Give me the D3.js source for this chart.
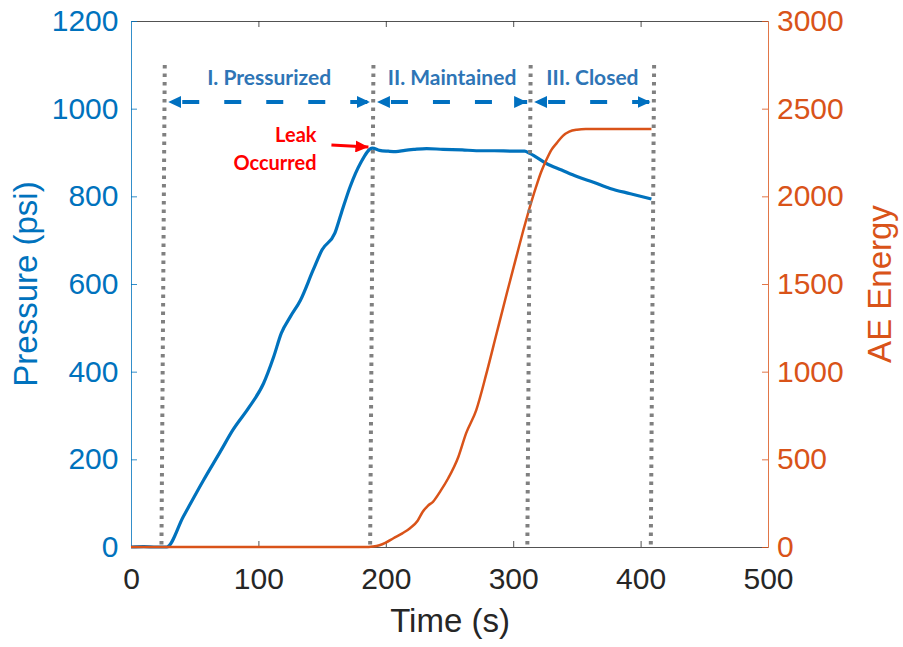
<!DOCTYPE html>
<html>
<head>
<meta charset="utf-8">
<script src="https://cdn.jsdelivr.net/npm/d3@7"></script>
<style>
  html, body { margin: 0; padding: 0; background: #fff; }
  svg { display: block; }
</style>
</head>
<body>
<svg id="chart" width="903" height="647"></svg>
<script>
// ---- data ----
// Pressure trace (time in s, pressure in psi)
const pressureTime = [0, 10, 20, 28, 41, 57, 70, 80, 93, 104, 112, 118, 125, 133, 143, 150, 160, 165, 172, 180, 189.5,
  195, 202, 208, 215, 222, 232, 245, 260, 271, 285, 300, 309, 313, 326, 338, 350, 363, 376, 392, 408.5];
const pressureValue = [0, 1, 0, 0, 69, 153, 217, 267, 320, 373, 434, 488, 525, 563, 632, 678, 716, 761, 822, 875, 910,
  905, 903, 902, 905, 907, 909, 907, 906, 904, 904, 903, 903, 898, 875, 860, 845, 832, 818, 806, 794];

// Cumulative acoustic emission energy
const energyTime = [0, 100, 183, 190, 195, 200, 206, 213, 219, 225, 229, 233, 237, 243, 249, 257, 263, 271, 279, 287,
  295, 302.5, 308, 312, 318, 322, 326, 330, 334, 339, 344, 350, 357, 380, 408.5];
const energyValue = [0, 0, 0, 3, 10, 25, 50, 78, 107, 150, 201, 235, 258, 320, 392, 515, 648, 781, 990, 1219,
  1447, 1656, 1808, 1912, 2055, 2140, 2207, 2265, 2302, 2345, 2369, 2380, 2384, 2384, 2384];

// Phase boundaries (s) and phase names
const phaseBounds = [26.5, 190.3, 313.7, 410.6];
const boundaryLean = -2.6;   // boundary markers drift slightly toward earlier time at the bottom
const phaseNames = ["I. Pressurized", "II. Maintained", "III. Closed"];

// Leak event annotation
const leakTime = 189.5;
const leakPressure = 910;
const leakLines = ["Leak", "Occurred"];

// Axis ticks
const timeTicks = [0, 100, 200, 300, 400, 500];
const pressureTicks = [0, 200, 400, 600, 800, 1000, 1200];
const energyTicks = [0, 500, 1000, 1500, 2000, 2500, 3000];

// ---- layout ----
const svg = d3.select("#chart");
const plotLeft = 131, plotRight = 768, plotTop = 21, plotBottom = 547;
const guideTop = 65;

const blue = "#0072BD", orange = "#D95319", dark = "#262626";
const phaseBlue = "#0070C0", phaseText = "#2E75B6";
const plain = d3.format("d");

const x = d3.scaleLinear().domain([0, 500]).range([plotLeft, plotRight]);
const yP = d3.scaleLinear().domain([0, 1200]).range([plotBottom, plotTop]);
const yE = d3.scaleLinear().domain([0, 3000]).range([plotBottom, plotTop]);

const defs = svg.append("defs");
function arrowMarker(id, color, w, h) {
  defs.append("marker")
    .attr("id", id)
    .attr("viewBox", `0 0 ${w} ${h}`)
    .attr("refX", w).attr("refY", h / 2)
    .attr("markerWidth", w).attr("markerHeight", h)
    .attr("markerUnits", "userSpaceOnUse")
    .attr("orient", "auto-start-reverse")
    .append("path")
    .attr("d", `M0,0L${w},${h / 2}L0,${h}Z`)
    .attr("fill", color);
}
arrowMarker("phaseHead", phaseBlue, 13, 12);
arrowMarker("leakHead", "#FF0000", 13, 12);

// ---- axes ----
const tickFont = "'Liberation Sans', Arial, Helvetica, sans-serif";

const gx = svg.append("g").attr("transform", `translate(0,${plotBottom})`)
  .call(d3.axisBottom(x).tickValues(timeTicks).tickFormat(plain)
    .tickSizeInner(-6).tickSizeOuter(0).tickPadding(21));
gx.selectAll("text").attr("fill", dark);
gx.selectAll("line, path").attr("stroke", dark).attr("stroke-width", 0.8);
gx.selectAll(".tick").filter(d => d === 0 || d === 500).select("line").remove();

const gt = svg.append("g").attr("transform", `translate(0,${plotTop})`)
  .call(d3.axisTop(x).tickValues(timeTicks.filter(d => d > 0 && d < 500))
    .tickSizeInner(-6).tickSizeOuter(0).tickFormat(""));
gt.selectAll("line, path").attr("stroke", dark).attr("stroke-width", 0.8);

const gl = svg.append("g").attr("transform", `translate(${plotLeft},0)`)
  .call(d3.axisLeft(yP).tickValues(pressureTicks).tickFormat(plain)
    .tickSizeInner(-6).tickSizeOuter(0).tickPadding(12.5));
gl.selectAll("text").attr("fill", blue);
gl.selectAll("line, path").attr("stroke", blue).attr("stroke-width", 0.8);

const gr = svg.append("g").attr("transform", `translate(${plotRight},0)`)
  .call(d3.axisRight(yE).tickValues(energyTicks).tickFormat(plain)
    .tickSizeInner(-6).tickSizeOuter(0).tickPadding(9));
gr.selectAll("text").attr("fill", orange);
gr.selectAll("line, path").attr("stroke", orange).attr("stroke-width", 0.8);

svg.selectAll(".tick text")
  .attr("font-family", tickFont).attr("font-size", 30);

// axis titles
svg.append("text")
  .attr("transform", `translate(${(plotLeft + plotRight) / 2 + 0.5},632)`)
  .attr("text-anchor", "middle")
  .attr("font-family", tickFont).attr("font-size", 33).attr("fill", dark)
  .text("Time (s)");

svg.append("text")
  .attr("transform", `translate(37,${(plotTop + plotBottom) / 2}) rotate(-90)`)
  .attr("text-anchor", "middle")
  .attr("font-family", tickFont).attr("font-size", 33).attr("fill", blue)
  .text("Pressure (psi)");

svg.append("text")
  .attr("transform", `translate(891,${(plotTop + plotBottom) / 2}) rotate(-90)`)
  .attr("text-anchor", "middle")
  .attr("font-family", tickFont).attr("font-size", 33).attr("fill", orange)
  .text("AE Energy");

// ---- series ----
const pressureData = pressureTime.map((t, i) => [t, pressureValue[i]]);
const energyData = energyTime.map((t, i) => [t, energyValue[i]]);

svg.append("path")
  .datum(pressureData)
  .attr("fill", "none").attr("stroke", blue).attr("stroke-width", 3.2)
  .attr("stroke-linejoin", "round")
  .attr("d", d3.line().x(d => x(d[0])).y(d => yP(d[1])).curve(d3.curveMonotoneX));

svg.append("path")
  .datum(energyData)
  .attr("fill", "none").attr("stroke", orange).attr("stroke-width", 2.5)
  .attr("stroke-linejoin", "round")
  .attr("d", d3.line().x(d => x(d[0])).y(d => yE(d[1])).curve(d3.curveMonotoneX));

// ---- phase boundaries ----
svg.append("g").selectAll("line")
  .data(phaseBounds)
  .join("line")
  .attr("x1", d => x(d)).attr("y1", guideTop)
  .attr("x2", d => x(d + boundaryLean)).attr("y2", plotBottom)
  .attr("stroke", "#808080").attr("stroke-width", 4)
  .attr("stroke-dasharray", "3.5,5");

// ---- phase arrows and labels ----
const arrowY = 102;
const phases = phaseNames.map((name, i) => ({ name, t0: phaseBounds[i], t1: phaseBounds[i + 1] }));

svg.append("g").selectAll("line")
  .data(phases)
  .join("line")
  .attr("x1", d => x(d.t0) + 3.5).attr("x2", d => x(d.t1) - 3.5)
  .attr("y1", arrowY).attr("y2", arrowY)
  .attr("stroke", phaseBlue).attr("stroke-width", 4)
  .attr("stroke-dasharray", "0,14,17,11")
  .attr("marker-start", "url(#phaseHead)")
  .attr("marker-end", "url(#phaseHead)");

svg.append("g").selectAll("text")
  .data(phases)
  .join("text")
  .attr("x", d => (x(d.t0) + x(d.t1)) / 2).attr("y", 85)
  .attr("text-anchor", "middle")
  .attr("font-family", "Lato, 'Open Sans', sans-serif").attr("font-weight", "bold")
  .attr("font-size", 21).attr("fill", phaseText)
  .text(d => d.name);

// ---- leak annotation ----
const leakX = x(leakTime), leakY = yP(leakPressure);
svg.append("line")
  .attr("x1", leakX - 41).attr("y1", leakY - 3)
  .attr("x2", leakX - 4).attr("y2", leakY - 1)
  .attr("stroke", "#FF0000").attr("stroke-width", 3)
  .attr("marker-end", "url(#leakHead)");

svg.append("g").selectAll("text")
  .data(leakLines)
  .join("text")
  .attr("x", 316.5).attr("y", (d, i) => 142 + i * 28)
  .attr("text-anchor", "end")
  .attr("font-family", "Lato, 'Open Sans', sans-serif").attr("font-weight", "bold")
  .attr("font-size", 20).attr("fill", "#FF0000")
  .text(d => d);
</script>
</body>
</html>
